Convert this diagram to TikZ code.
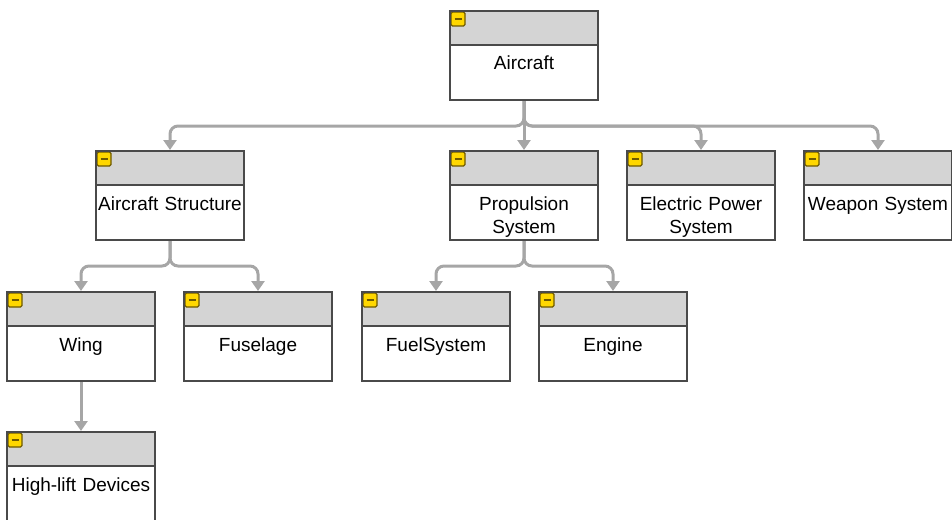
\documentclass[tikz,border=0pt]{standalone}
\usepackage{fontspec}
\setmainfont{Liberation Sans}
\usetikzlibrary{arrows.meta}
\definecolor{hdrgray}{HTML}{D4D4D4}
\definecolor{edgegray}{HTML}{A6A6A6}
\definecolor{boxline}{HTML}{4A4A4A}
\definecolor{iconyellow}{HTML}{FFD700}
\definecolor{icondark}{HTML}{6E5A00}
\begin{document}
\begin{tikzpicture}
	[x=1pt,y=-1pt,
	block/.style={rectangle, draw=boxline, line width=2pt, fill=white,
		minimum width=148pt, minimum height=89pt, inner sep=0pt,
		text width=146pt, align=center, text height=59pt, text depth=30pt,
		font=\fontsize{19}{23}\selectfont,
		path picture={
			\fill[hdrgray] (path picture bounding box.north west) rectangle ([yshift=-34pt]path picture bounding box.north east);
			\draw[boxline, line width=2pt] ([yshift=-34pt]path picture bounding box.north west) -- ([yshift=-34pt]path picture bounding box.north east);
			\draw[icondark, fill=iconyellow, line width=1.2pt, rounded corners=1.5pt] ([xshift=1pt,yshift=-1pt]path picture bounding box.north west) rectangle ++(14pt,-14pt);
			\draw[icondark, line width=1.6pt] ([xshift=4.5pt,yshift=-8pt]path picture bounding box.north west) -- ++(7pt,0pt);
		}},
	link/.style={draw=edgegray, line width=3pt, rounded corners=8pt,
		-{Triangle[length=10pt,width=13pt]}}]
	\useasboundingbox (0,0) rectangle (952,519);

	\node[block] (ac)  at (524,55.5)  {Aircraft};

	\node[block] (as)  at (170,195.5) {Aircraft Structure};
	\node[block] (ps)  at (524,195.5) {Propulsion\\System};
	\node[block] (eps) at (701,195.5) {Electric Power\\System};
	\node[block] (ws)  at (878,195.5) {Weapon System};

	\node[block] (wg)  at (81,336.5)  {Wing};
	\node[block] (fu)  at (258,336.5) {Fuselage};
	\node[block] (fs)  at (436,336.5) {FuelSystem};
	\node[block] (en)  at (613,336.5) {Engine};

	\node[block] (hl)  at (81,476.5)  {High-lift Devices};

	\foreach \from/\to in {ac/as,ac/eps,ac/ws,
	as/wg,as/fu,ps/fs,ps/en}
	\draw[link] (\from.south) -- ++(0,25) -| (\to.north);

	\foreach \from/\to in {ac/ps,wg/hl}
	\draw[link] (\from) -- (\to);
\end{tikzpicture}
\end{document}
